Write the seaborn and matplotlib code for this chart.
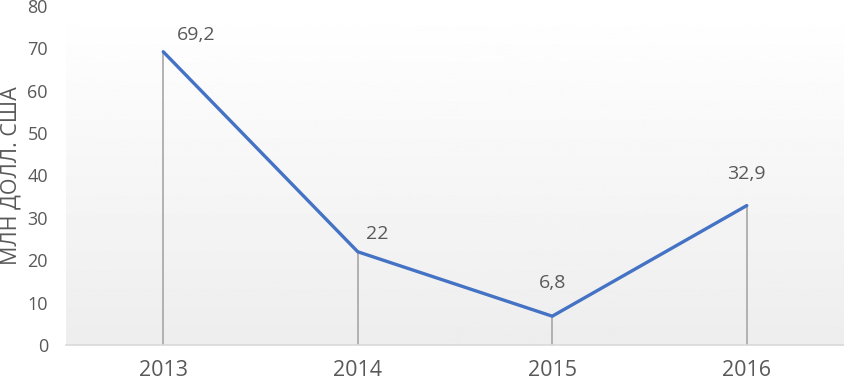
import numpy as np
import pandas as pd
import matplotlib
matplotlib.use("Agg")
import matplotlib.pyplot as plt
import seaborn as sns

# data
years  = ["2013", "2014", "2015", "2016"]
values = [69.2, 22, 6.8, 32.9]
labels = ["69,2", "22", "6,8", "32,9"]

df = pd.DataFrame({"year": years, "value": values})

sns.set_theme(style="white")
plt.rcParams["font.family"] = ["Open Sans", "DejaVu Sans"]

text_col = "#595959"
line_col = "#4472C4"

fig = plt.figure(figsize=(8.44, 3.83), dpi=100)
ax = fig.add_axes([66 / 844, 38 / 383, 778 / 844, 339 / 383])

# faint vertical gradient in the plot area
grad = np.linspace(1.0, 0.93, 256).reshape(-1, 1)
ax.imshow(grad, cmap="gray", vmin=0, vmax=1, aspect="auto",
          extent=(-0.5, 3.5, 0, 80), zorder=0)

# drop lines from each point to the axis
ax.vlines(range(len(years)), 0, values, color="#a6a6a6", linewidth=1.2, zorder=1)

sns.lineplot(data=df, x="year", y="value", color=line_col, linewidth=2.4,
             ax=ax, zorder=3)

# data labels
offsets = [(24, 12), (14, 13), (0, 24), (0, 23)]
for i, (v, lab) in enumerate(zip(values, labels)):
    ax.annotate(lab, (i, v), xytext=offsets[i], textcoords="offset points",
                ha="center", va="center", fontsize=14, color=text_col)

ax.set_xlim(-0.5, 3.5)
ax.set_ylim(0, 80)
ax.set_yticks(range(0, 81, 10))
ax.set_xlabel("")
ax.set_ylabel("МЛН ДОЛЛ. США", fontsize=15.5, color=text_col)
ax.yaxis.set_label_coords(-0.057, 0.5)
ax.tick_params(axis="both", colors=text_col, length=0)
ax.tick_params(axis="x", labelsize=15.5, pad=11)
ax.tick_params(axis="y", labelsize=13, pad=13)

for side in ["left", "right", "top"]:
    ax.spines[side].set_visible(False)
ax.spines["bottom"].set_color("#d9d9d9")
ax.spines["bottom"].set_linewidth(1.2)
ax.spines["bottom"].set_zorder(2)

fig.savefig("out.png", dpi=100)
